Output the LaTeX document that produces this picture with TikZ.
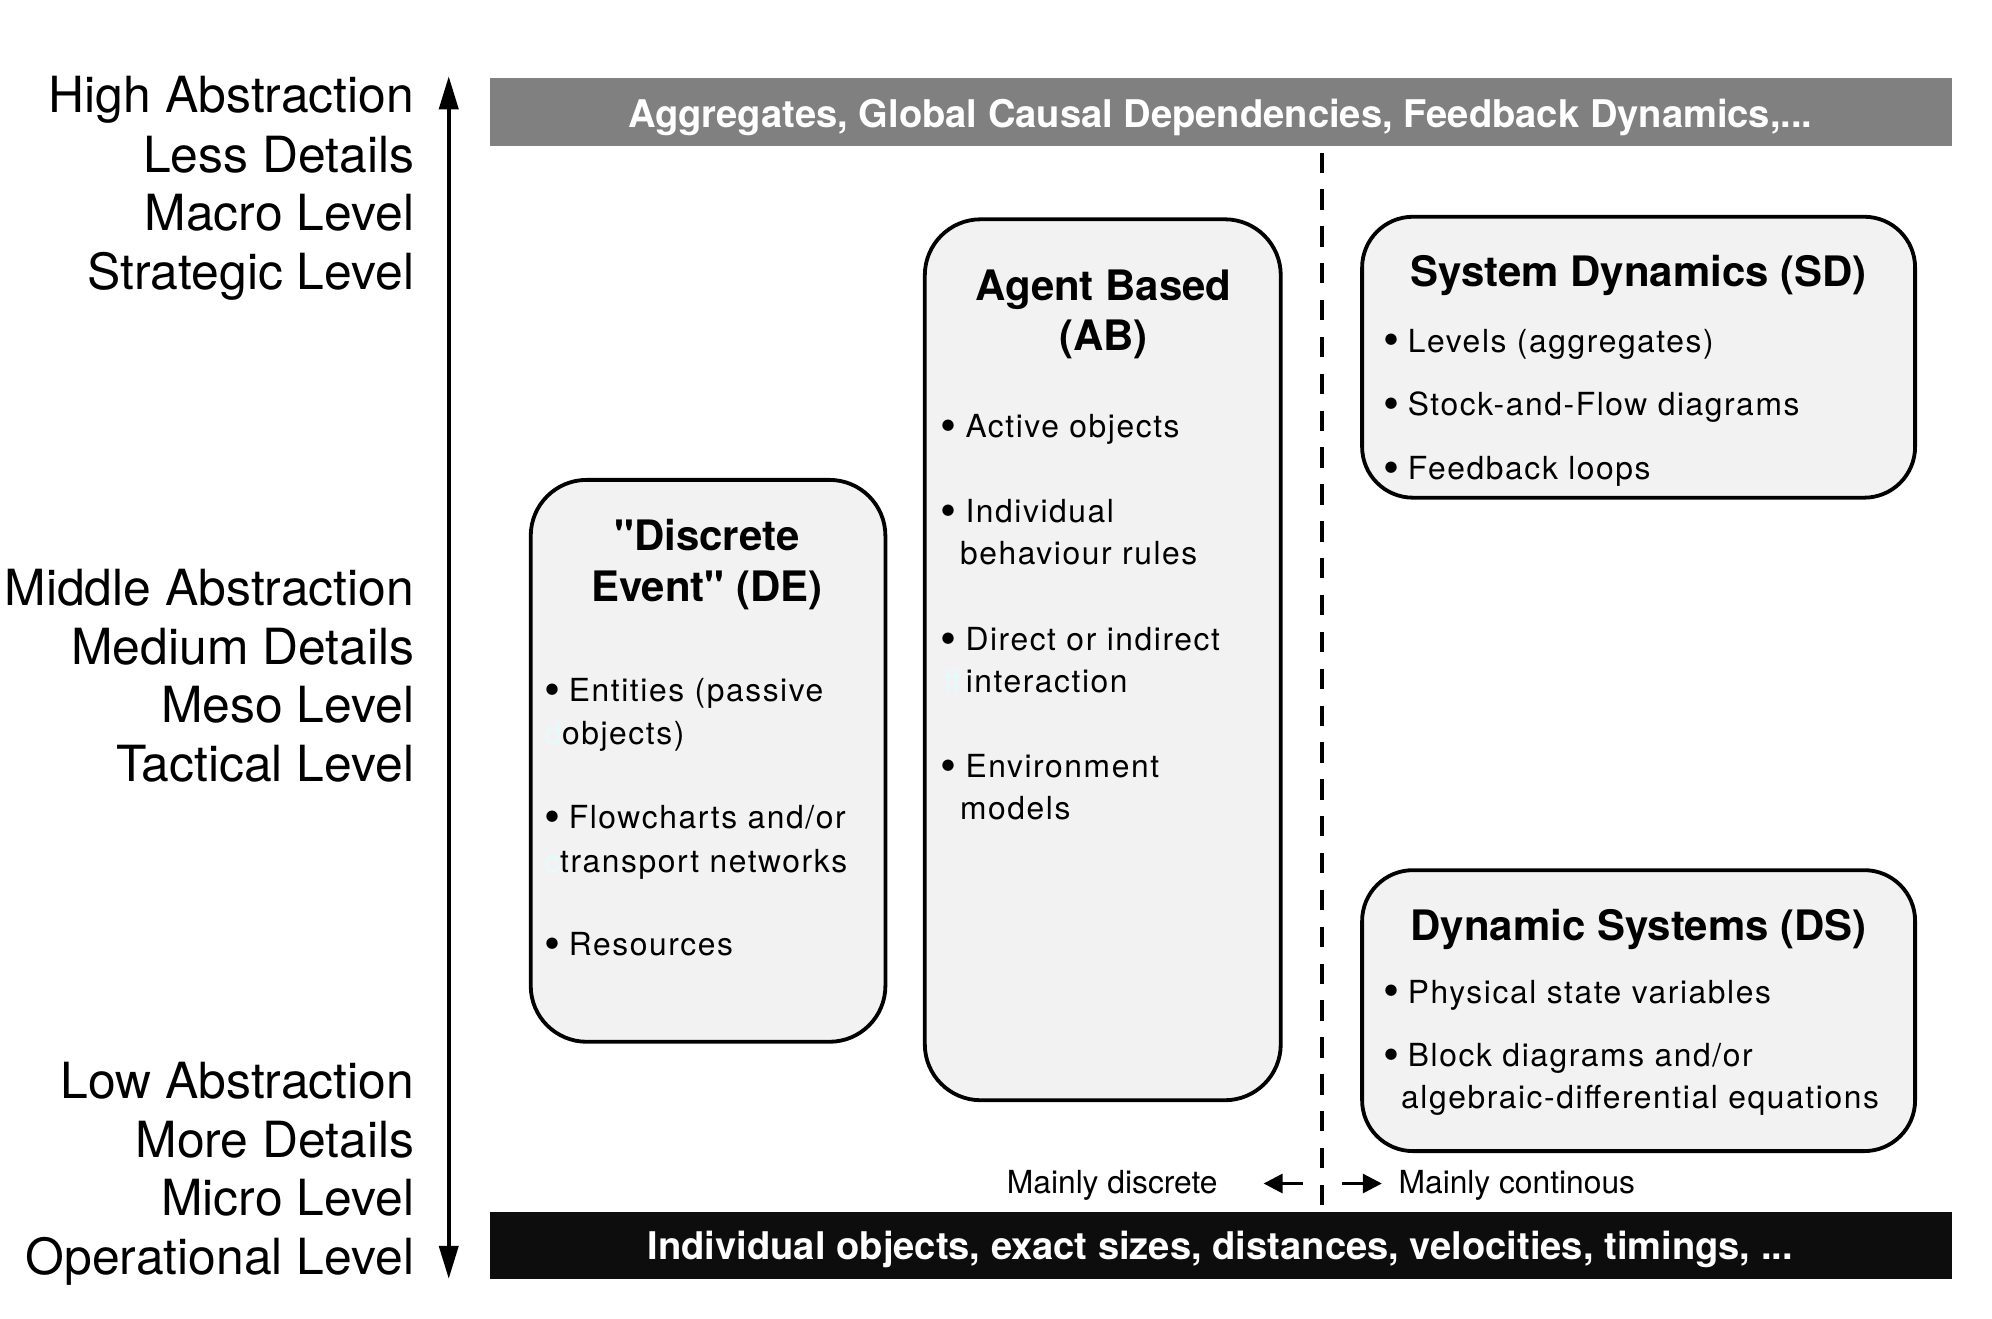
\documentclass[tikz,border=0pt]{standalone}
\usepackage{fontspec}
\setmainfont{TeX Gyre Heros}
\newfontfamily\bodyfont[LetterSpace=5]{TeX Gyre Heros}
\newfontfamily\qfont[Ligatures=TeXOff]{TeX Gyre Heros}
\usetikzlibrary{arrows.meta}
\definecolor{boxfill}{HTML}{F2F2F2}
\definecolor{bargray}{HTML}{808080}
\definecolor{barblack}{HTML}{0D0D0D}
\definecolor{faint}{HTML}{E6FAFA}
\newcommand\bul{\raisebox{-3pt}{\fontsize{36}{36}\selectfont •}\hspace{-1.5pt}}
\newcommand\qq{{\qfont\bfseries "}}
\tikzset{
  lbl/.style={anchor=base east, inner sep=0pt, font=\fontsize{39.2}{46}\selectfont},
  body/.style={anchor=base west, inner sep=0pt, font=\bodyfont\fontsize{25}{30}\selectfont},
  ttl/.style={anchor=base, inner sep=0pt, font=\bfseries\fontsize{33}{40}\selectfont},
  bartxt/.style={anchor=base, inner sep=0pt, text=white, font=\bfseries\fontsize{30}{36}\selectfont},
  small/.style={inner sep=0pt, font=\fontsize{25}{30}\selectfont},
  modbox/.style={draw=black, line width=3pt, fill=boxfill, rounded corners=44pt, inner sep=0pt, anchor=north west},
}
\begin{document}
\begin{tikzpicture}[x=1pt,y=-1pt]
\useasboundingbox (0,0) rectangle (1567,1036.8);
% dashed divider
\coordinate (dtop) at (1040,120);
\coordinate (dbot) at (1040,1008);
\draw[line width=2.6pt, dash pattern=on 16pt off 13pt] (dtop) -- (dbot);
% bars
\node[fill=bargray, minimum width=1150pt, minimum height=54pt, inner sep=0pt, anchor=north west] (topbar) at (385,61) {};
\node[bartxt] (toptxt) at (960,100) {Aggregates, Global Causal Dependencies, Feedback Dynamics,...};
\node[fill=barblack, minimum width=1150pt, minimum height=53pt, inner sep=0pt, anchor=north west] (botbar) at (385,953) {};
\node[bartxt] (bottxt) at (960,991) {Individual objects, exact sizes, distances, velocities, timings, ...};
% vertical arrow
\coordinate (atop) at (353,60);
\coordinate (abot) at (353,1006);
\draw[line width=3pt, {Triangle[length=26pt,width=15pt]}-{Triangle[length=26pt,width=15pt]}] (atop) -- (abot);
% left labels
\node[lbl] (l1) at (326,88.5) {High Abstraction};
\node[lbl] (l2) at (326,135.5) {Less Details};
\node[lbl] (l3) at (326,181.5) {Macro Level};
\node[lbl] (l4) at (326,228) {Strategic Level};
\node[lbl] (m1) at (326,476) {Middle Abstraction};
\node[lbl] (m2) at (326,522.5) {Medium Details};
\node[lbl] (m3) at (326,568.5) {Meso Level};
\node[lbl] (m4) at (326,615) {Tactical Level};
\node[lbl] (o1) at (326,864) {Low Abstraction};
\node[lbl] (o2) at (326,910.5) {More Details};
\node[lbl] (o3) at (326,956.5) {Micro Level};
\node[lbl] (o4) at (326,1002.5) {Operational Level};
% DE box
\node[modbox, minimum width=279pt, minimum height=442pt] (de) at (416,376) {};
\node[ttl] (det1) at (556,433) {\qq Discrete};
\node[ttl] (det2) at (556,473) {Event\qq{} (DE)};
\node[body] (de1) at (428,552) {\bul{} Entities (passive};
\node[body] (de2) at (428,586) {\textcolor{faint}{d}objects)};
\node[body] (de3) at (428,652) {\bul{} Flowcharts and/or};
\node[body] (de4) at (428,686) {\textcolor{faint}{c}transport networks};
\node[body] (de5) at (428,752) {\bul{} Resources};
% AB box
\node[modbox, minimum width=280pt, minimum height=693pt] (ab) at (726,171) {};
\node[ttl] (abt1) at (868,236) {Agent Based};
\node[ttl] (abt2) at (868,276) {(AB)};
\node[body] (ab1) at (740,344) {\bul{} Active objects};
\node[body] (ab2) at (740,411) {\bul{} Individual};
\node[body] (ab3) at (755,444) {behaviour rules};
\node[body] (ab4) at (740,512) {\bul{} Direct or indirect};
\node[body] (ab5) at (742,545) {\textcolor{faint}{ff}\,interaction};
\node[body] (ab6) at (740,612) {\bul{} Environment};
\node[body] (ab7) at (755,645) {models};
% SD box
\node[modbox, rounded corners=40pt, minimum width=435pt, minimum height=221pt] (sd) at (1070,169) {};
\node[ttl] (sdt) at (1289,225) {System Dynamics (SD)};
\node[body] (sd1) at (1088,277) {\bul{} Levels (aggregates)};
\node[body] (sd2) at (1088,327) {\bul{} Stock-and-Flow diagrams};
\node[body] (sd3) at (1088,377) {\bul{} Feedback loops};
% DS box
\node[modbox, rounded corners=40pt, minimum width=435pt, minimum height=221pt] (ds) at (1070,683) {};
\node[ttl] (dst) at (1289,740) {Dynamic Systems (DS)};
\node[body] (ds1) at (1088,789) {\bul{} Physical state variables};
\node[body] (ds2) at (1088,839) {\bul{} Block diagrams and/or};
\node[body] (ds3) at (1102,872) {algebraic-differential equations};
% bottom direction labels
\node[small, anchor=base east] (mdis) at (958,939) {Mainly discrete};
\node[small, anchor=base west] (mcon) at (1100,939) {Mainly continous};
\coordinate (lt) at (1025,931);
\coordinate (lh) at (994,931);
\coordinate (rt) at (1056,931);
\coordinate (rh) at (1087,931);
\draw[line width=2.4pt, -{Triangle[length=15pt,width=15pt]}] (lt) -- (lh);
\draw[line width=2.4pt, -{Triangle[length=15pt,width=15pt]}] (rt) -- (rh);
\end{tikzpicture}
\end{document}
